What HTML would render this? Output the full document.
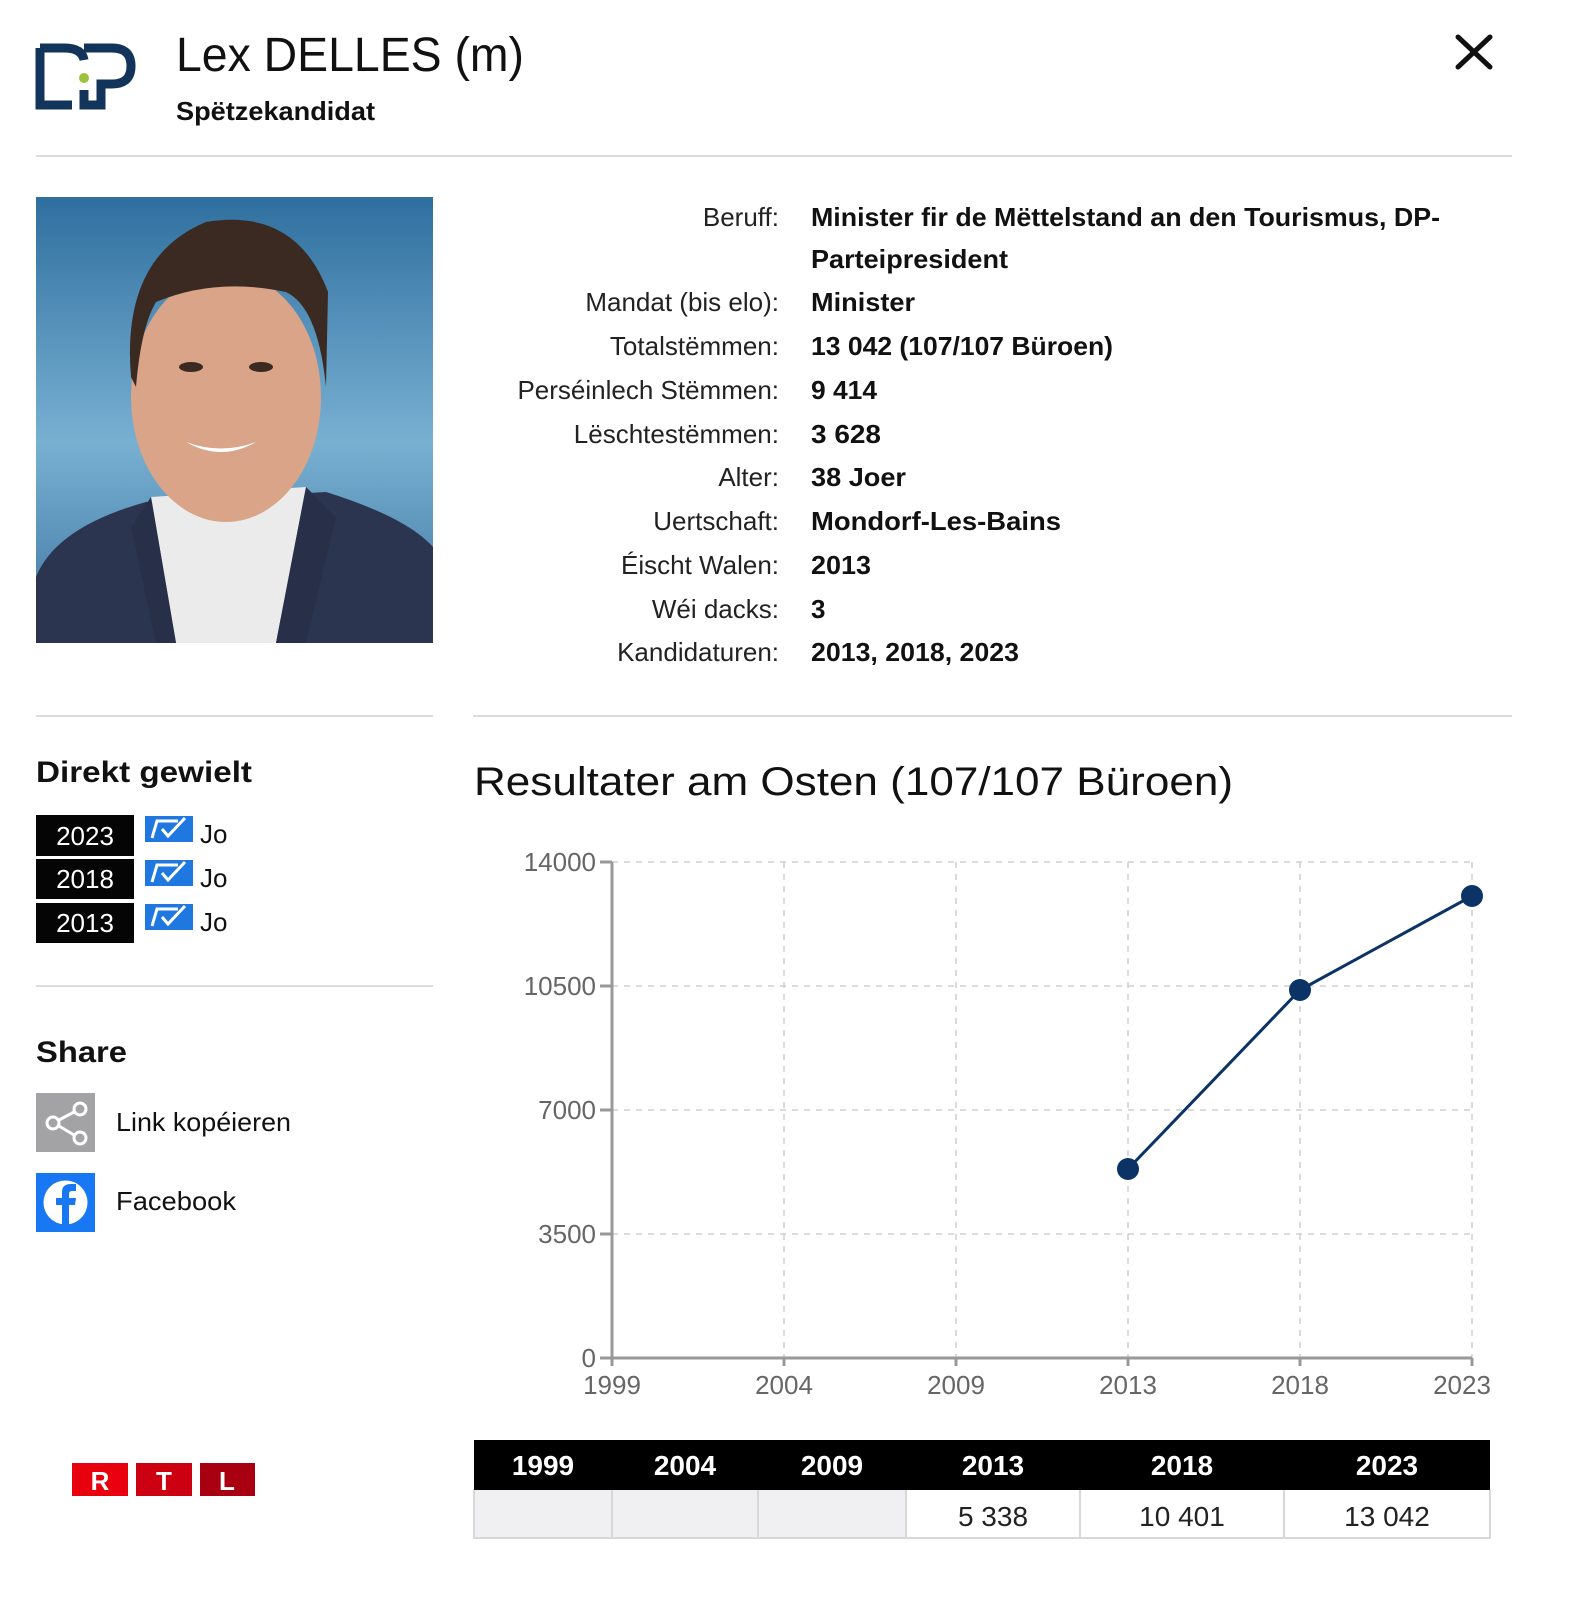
<!DOCTYPE html>
<html><head><meta charset="utf-8"><style>
html,body{margin:0;padding:0;background:#fff;overflow:hidden;width:1572px;height:1598px;}
svg{display:block;}
text{font-family:"Liberation Sans",sans-serif;}
</style></head><body>
<svg width="1572" height="1598" viewBox="0 0 1572 1598" xmlns="http://www.w3.org/2000/svg">
<defs>
<linearGradient id="bg" x1="0" y1="0" x2="0" y2="1">
<stop offset="0" stop-color="#2f6f9f"/><stop offset="0.55" stop-color="#78b0d2"/><stop offset="1" stop-color="#3e74a0"/>
</linearGradient>
</defs>
<!-- logo -->
<g fill="none" stroke="#12335a" stroke-width="9" stroke-linejoin="miter">
<path d="M40 48 V105 H72"/>
<path d="M40 48 H64 Q82 48 84 60"/>
<path d="M84 48 H112 Q131 48 131 66 Q131 84 112 84 H101 V105 H84 V90"/>
</g>
<circle cx="84" cy="78" r="5" fill="#9cc13a"/>
<text x="176" y="71" font-size="48" fill="#111" textLength="348" lengthAdjust="spacingAndGlyphs">Lex DELLES (m)</text>
<text x="176" y="120" font-size="26" font-weight="bold" fill="#111" textLength="199" lengthAdjust="spacingAndGlyphs">Spëtzekandidat</text>
<path d="M1458 37 L1490 67 M1490 37 L1458 67" stroke="#111" stroke-width="5" stroke-linecap="round"/>
<rect x="36" y="155" width="1476" height="2" fill="#dcdcdc"/>
<!-- photo -->
<g transform="translate(36,197)">
<rect width="397" height="446" fill="url(#bg)"/>
<path d="M0 446 L0 380 Q20 330 110 305 L290 295 Q370 320 397 350 V446 Z" fill="#2c3550"/>
<path d="M115 300 L270 290 L240 446 L140 446 Z" fill="#ebebeb"/>
<path d="M115 300 L140 446 L120 446 L95 330 Z" fill="#283049"/>
<path d="M270 290 L240 446 L270 446 L300 320 Z" fill="#283049"/>
<ellipse cx="190" cy="200" rx="95" ry="125" fill="#d9a487"/>
<path d="M95 180 Q85 60 170 25 Q260 10 292 95 L290 190 Q282 110 250 95 Q180 80 120 105 Q105 130 100 190 Z" fill="#3a2a22"/>
<ellipse cx="155" cy="170" rx="12" ry="5" fill="#3a2a22"/>
<ellipse cx="225" cy="170" rx="12" ry="5" fill="#3a2a22"/>
<path d="M150 245 Q185 265 220 245 Q185 258 150 245 Z" fill="#fff"/>
</g>
<!-- info -->
<g font-size="26" fill="#222" text-anchor="end">
<text x="779" y="226">Beruff:</text>
<text x="779" y="311">Mandat (bis elo):</text>
<text x="779" y="355">Totalstëmmen:</text>
<text x="779" y="399">Perséinlech Stëmmen:</text>
<text x="779" y="443">Lëschtestëmmen:</text>
<text x="779" y="486">Alter:</text>
<text x="779" y="530">Uertschaft:</text>
<text x="779" y="574">Éischt Walen:</text>
<text x="779" y="618">Wéi dacks:</text>
<text x="779" y="661">Kandidaturen:</text>
</g>
<g font-size="26" font-weight="bold" fill="#111">
<text x="811" y="226" textLength="629" lengthAdjust="spacingAndGlyphs">Minister fir de Mëttelstand an den Tourismus, DP-</text>
<text x="811" y="268" textLength="197" lengthAdjust="spacingAndGlyphs">Parteipresident</text>
<text x="811" y="311" textLength="104" lengthAdjust="spacingAndGlyphs">Minister</text>
<text x="811" y="355" textLength="302" lengthAdjust="spacingAndGlyphs">13 042 (107/107 Büroen)</text>
<text x="811" y="399" textLength="66" lengthAdjust="spacingAndGlyphs">9 414</text>
<text x="811" y="443" textLength="70" lengthAdjust="spacingAndGlyphs">3 628</text>
<text x="811" y="486" textLength="95" lengthAdjust="spacingAndGlyphs">38 Joer</text>
<text x="811" y="530" textLength="250" lengthAdjust="spacingAndGlyphs">Mondorf-Les-Bains</text>
<text x="811" y="574" textLength="60" lengthAdjust="spacingAndGlyphs">2013</text>
<text x="811" y="618">3</text>
<text x="811" y="661" textLength="208" lengthAdjust="spacingAndGlyphs">2013, 2018, 2023</text>
</g>
<rect x="36" y="715" width="397" height="2" fill="#dcdcdc"/>
<rect x="473" y="715" width="1039" height="2" fill="#dcdcdc"/>
<!-- direkt gewielt -->
<text x="36" y="782" font-size="30" font-weight="bold" fill="#111" textLength="216" lengthAdjust="spacingAndGlyphs">Direkt gewielt</text>
<g font-size="26" fill="#fff" text-anchor="middle">
<rect x="36" y="815" width="98" height="41" fill="#050505"/><text x="85" y="845">2023</text>
<rect x="36" y="859" width="98" height="40" fill="#050505"/><text x="85" y="888">2018</text>
<rect x="36" y="903" width="98" height="40" fill="#050505"/><text x="85" y="932">2013</text>
</g>
<g>
<rect x="145" y="816" width="48" height="26" fill="#1f78e0"/>
<rect x="145" y="860" width="48" height="26" fill="#1f78e0"/>
<rect x="145" y="904" width="48" height="26" fill="#1f78e0"/>
<g fill="none" stroke="#fff" stroke-width="3">
<path d="M152 838 L157 821 H178 M162 829 L168 836 L185 818"/>
<path d="M152 882 L157 865 H178 M162 873 L168 880 L185 862"/>
<path d="M152 926 L157 909 H178 M162 917 L168 924 L185 906"/>
</g>
</g>
<g font-size="26" fill="#111">
<text x="200" y="843">Jo</text><text x="200" y="887">Jo</text><text x="200" y="931">Jo</text>
</g>
<rect x="36" y="985" width="397" height="2" fill="#dcdcdc"/>
<text x="36" y="1062" font-size="30" font-weight="bold" fill="#111" textLength="91" lengthAdjust="spacingAndGlyphs">Share</text>
<rect x="36" y="1093" width="59" height="59" fill="#a3a3a6"/>
<g fill="none" stroke="#fff" stroke-width="3">
<circle cx="80" cy="1109" r="6"/><circle cx="53" cy="1123" r="6"/><circle cx="80" cy="1138" r="6"/>
<path d="M59 1120 L74 1112 M59 1126 L74 1135"/>
</g>
<text x="116" y="1131" font-size="26" fill="#111" textLength="175" lengthAdjust="spacingAndGlyphs">Link kopéieren</text>
<rect x="36" y="1173" width="59" height="59" fill="#1877f2"/>
<circle cx="65.5" cy="1202.5" r="22" fill="#fff"/>
<path d="M62 1225 V1205 H56 V1198 H62 V1192 Q62 1184 71 1184 H76 V1191 H72 Q69 1191 69 1194 V1198 H76 L75 1205 H69 V1225 Z" fill="#1877f2"/>
<text x="116" y="1210" font-size="26" fill="#111" textLength="120" lengthAdjust="spacingAndGlyphs">Facebook</text>
<!-- RTL -->
<rect x="72" y="1463" width="56" height="33" fill="#e8000f"/>
<rect x="136" y="1463" width="56" height="33" fill="#cc0010"/>
<rect x="200" y="1463" width="55" height="33" fill="#a80010"/>
<g font-size="26" font-weight="bold" fill="#fff" text-anchor="middle">
<text x="100" y="1490">R</text><text x="164" y="1490">T</text><text x="227" y="1490">L</text>
</g>
<!-- chart -->
<text x="474" y="795" font-size="40" fill="#111" textLength="759" lengthAdjust="spacingAndGlyphs">Resultater am Osten (107/107 Büroen)</text>
<g stroke="#cfcfcf" stroke-width="1.5" stroke-dasharray="6,6" fill="none">
<path d="M612 862 H1472 M612 986 H1472 M612 1110 H1472 M612 1234 H1472"/>
<path d="M784 862 V1358 M956 862 V1358 M1128 862 V1358 M1300 862 V1358 M1472 862 V1358"/>
</g>
<g stroke="#999" stroke-width="3" fill="none">
<path d="M612 862 V1358 H1472"/>
<path d="M600 862 H612 M600 986 H612 M600 1110 H612 M600 1234 H612 M600 1358 H612"/>
<path d="M612 1358 V1366 M784 1358 V1366 M956 1358 V1366 M1128 1358 V1366 M1300 1358 V1366 M1472 1358 V1366"/>
</g>
<g font-size="26" fill="#666" text-anchor="end">
<text x="596" y="871">14000</text><text x="596" y="995">10500</text><text x="596" y="1119">7000</text><text x="596" y="1243">3500</text><text x="596" y="1367">0</text>
</g>
<g font-size="26" fill="#666" text-anchor="middle">
<text x="612" y="1394">1999</text><text x="784" y="1394">2004</text><text x="956" y="1394">2009</text><text x="1128" y="1394">2013</text><text x="1300" y="1394">2018</text><text x="1462" y="1394">2023</text>
</g>
<polyline points="1128,1169 1300,990 1472,896" fill="none" stroke="#0b3366" stroke-width="3"/>
<g fill="#0b3366"><circle cx="1128" cy="1169" r="11"/><circle cx="1300" cy="990" r="11"/><circle cx="1472" cy="896" r="11"/></g>
<!-- table -->
<rect x="474" y="1440" width="1016" height="50" fill="#000"/>
<g font-size="28" font-weight="bold" fill="#fff" text-anchor="middle">
<text x="543" y="1475">1999</text><text x="685" y="1475">2004</text><text x="832" y="1475">2009</text><text x="993" y="1475">2013</text><text x="1182" y="1475">2018</text><text x="1387" y="1475">2023</text>
</g>
<rect x="474" y="1490" width="432" height="48" fill="#f0f0f2"/>
<g stroke="#d8d8d8" stroke-width="2" fill="none">
<path d="M474 1490 V1538 H1490 V1490 M612 1490 V1538 M758 1490 V1538 M906 1490 V1538 M1080 1490 V1538 M1284 1490 V1538"/>
</g>
<g font-size="28" fill="#222" text-anchor="middle">
<text x="993" y="1526">5 338</text><text x="1182" y="1526">10 401</text><text x="1387" y="1526">13 042</text>
</g>
</svg>
</body></html>
